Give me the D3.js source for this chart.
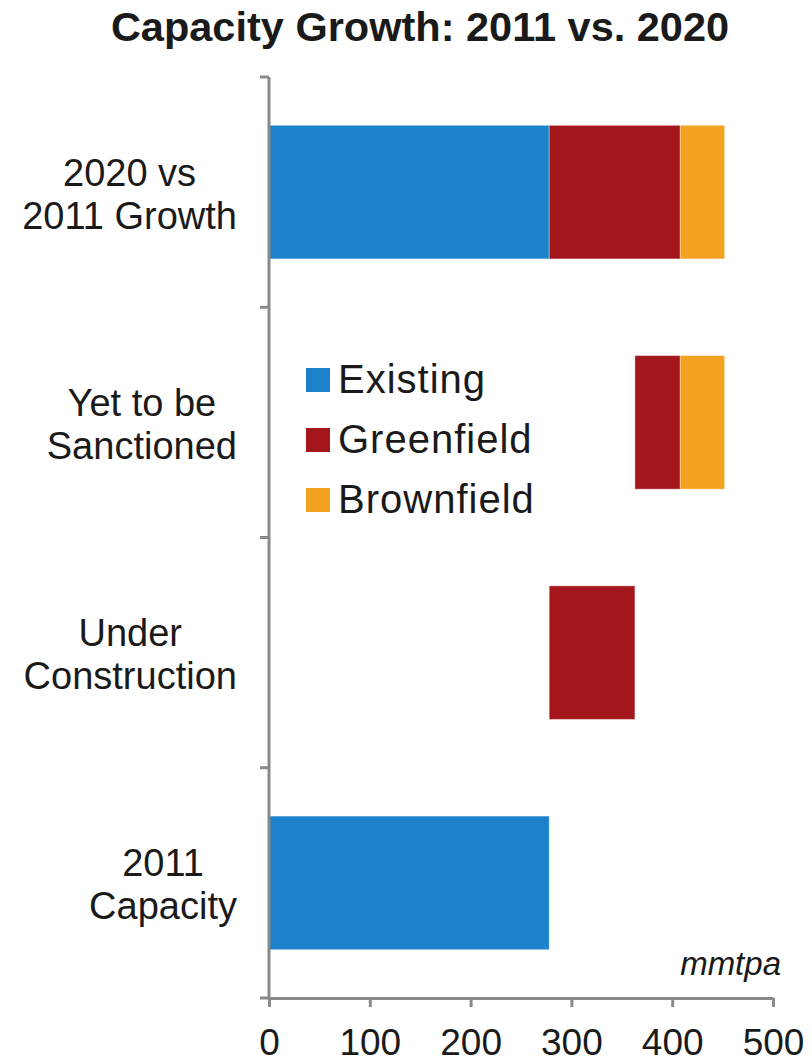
<!DOCTYPE html>
<html>
<head>
<meta charset="utf-8">
<script src="https://cdn.jsdelivr.net/npm/d3@7/dist/d3.min.js"></script>
<style>
 body { margin: 0; background: #fff; }
 svg text { font-family: "Liberation Sans", Arial, Helvetica, sans-serif; fill: #1a1a1a; }
</style>
</head>
<body>
<svg id="chart" width="812" height="1063"></svg>
<script>
 // categories top to bottom, label lines split on "|"
 var categories = ["2020 vs|2011 Growth", "Yet to be|Sanctioned", "Under|Construction", "2011|Capacity"];
 // invisible offset so the bars float (waterfall)
 var base       = [0, 363, 278, 0];
 var existing   = [278, 0, 0, 278];
 var greenfield = [130, 45, 85, 0];
 var brownfield = [44, 44, 0, 0];
 var seriesNames = ["Existing", "Greenfield", "Brownfield"];
 var xTicks = [0, 100, 200, 300, 400, 500];

 var colors = {Existing: "#1c82cc", Greenfield: "#a3161b", Brownfield: "#f3a120"};

 var svg = d3.select("#chart");
 var margin = {top: 77, left: 269, right: 41, bottom: 65};
 var width = 812 - margin.left - margin.right,
     height = 1063 - margin.top - margin.bottom;

 var rows = categories.map(function(c, i){
     return {cat: c, base: base[i], Existing: existing[i], Greenfield: greenfield[i], Brownfield: brownfield[i]};
 });

 var x = d3.scaleLinear().domain([0, 500]).range([0, width + 2]);
 var y = d3.scaleBand().domain(categories).range([0, height])
     .paddingInner(0.42).paddingOuter(0.21);

 var stack = d3.stack().keys(["base"].concat(seriesNames));
 var layers = stack(rows);

 var g = svg.append("g").attr("transform", "translate(" + margin.left + "," + margin.top + ")");

 // bars (skip base layer)
 g.selectAll("g.layer")
  .data(layers.filter(function(l){ return l.key != "base"; }))
  .enter().append("g")
  .attr("class", "layer")
  .attr("fill", function(d){ return colors[d.key]; })
  .selectAll("rect")
  .data(function(d){ return d; })
  .enter().filter(function(d){ return d[1] - d[0] > 0; })
  .append("rect")
  .attr("x", function(d){ return x(d[0]); })
  .attr("width", function(d){ return x(d[1]) - x(d[0]); })
  .attr("y", function(d){ return y(d.data.cat); })
  .attr("height", y.bandwidth())
  .attr("stroke", "rgba(255,255,255,0.35)")
  .attr("stroke-width", 1);

 // x axis
 var xAxis = g.append("g")
     .attr("transform", "translate(0," + height + ")")
     .call(d3.axisBottom(x).tickValues(xTicks).tickSize(9).tickSizeOuter(0).tickPadding(22));
 xAxis.select(".domain").attr("stroke", "#898989").attr("stroke-width", 3);
 xAxis.selectAll(".tick line").attr("stroke", "#898989").attr("stroke-width", 3);
 xAxis.selectAll(".tick text")
     .style("font-size", "37px")
     .style("font-family", "'Liberation Sans', Arial, sans-serif")
     .attr("fill", "#1a1a1a")
     .attr("dy", "0.71em");

 // y axis: ticks on band boundaries
 var bounds = d3.range(categories.length + 1).map(function(i){ return i * y.step(); });
 g.append("line")
  .attr("x1", 0).attr("x2", 0)
  .attr("y1", 0).attr("y2", height)
  .attr("stroke", "#898989").attr("stroke-width", 3);
 g.selectAll("line.ytick").data(bounds).enter().append("line")
  .attr("class", "ytick")
  .attr("x1", -9).attr("x2", 0)
  .attr("y1", function(d){ return d; }).attr("y2", function(d){ return d; })
  .attr("stroke", "#898989").attr("stroke-width", 3);

 // category labels: lines centred, block right-aligned near the axis
 var sx = 0.975, labelRight = 237;
 var labels = svg.selectAll("g.catlabel").data(categories).enter().append("g")
     .attr("class", "catlabel");
 labels.each(function(d){
     var lines = d.split("|");
     var t = d3.select(this).append("text")
         .attr("text-anchor", "middle")
         .style("font-size", "39px");
     var maxW = 0;
     lines.forEach(function(l, i){
         var ts = t.append("tspan").attr("x", 0)
          .attr("y", (i - (lines.length - 1) / 2) * 43 + 15)
          .text(l);
         maxW = Math.max(maxW, ts.node().getComputedTextLength());
     });
     var cy = margin.top + y(d) + y.bandwidth() / 2;
     var cx = labelRight - maxW * sx / 2;
     d3.select(this).attr("transform", "translate(" + cx + "," + cy + ") scale(" + sx + ",1)");
 });

 // legend
 var leg = svg.append("g").attr("transform", "translate(306,368)");
 var li = leg.selectAll("g").data(seriesNames).enter().append("g")
     .attr("transform", function(d, i){ return "translate(0," + (i * 60) + ")"; });
 li.append("rect").attr("width", 24).attr("height", 24)
   .attr("fill", function(d){ return colors[d]; });
 li.append("text").attr("x", 32).attr("y", 25)
   .style("font-size", "40px").style("letter-spacing", "1px")
   .text(function(d){ return d; });

 // title
 svg.append("text")
    .attr("x", 420).attr("y", 41)
    .attr("text-anchor", "middle")
    .style("font-size", "41.5px").style("font-weight", "bold")
    .text("Capacity Growth: 2011 vs. 2020");

 // unit
 svg.append("text")
    .attr("x", 781).attr("y", 975)
    .attr("text-anchor", "end")
    .style("font-size", "33px").style("font-style", "italic")
    .text("mmtpa");
</script>
</body>
</html>
